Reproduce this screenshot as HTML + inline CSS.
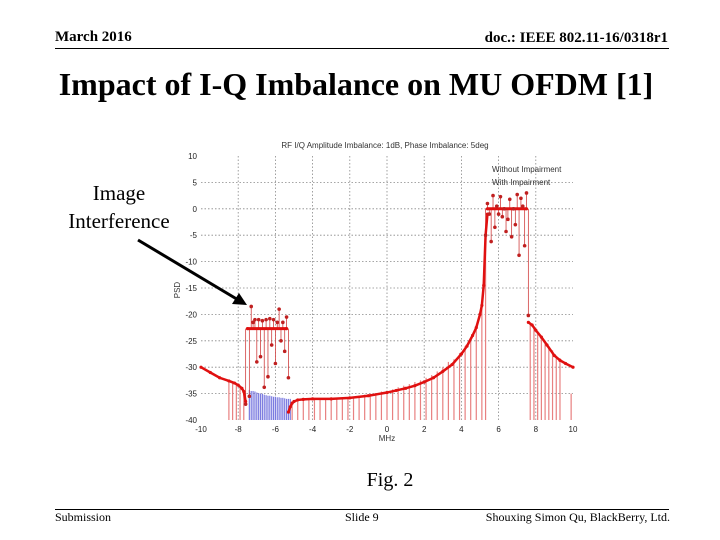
<!DOCTYPE html>
<html><head><meta charset="utf-8"><style>
body{margin:0;background:#fff;}
#root{position:relative;width:720px;height:540px;overflow:hidden;font-family:"Liberation Serif",serif;color:#000;}
.t{position:absolute;white-space:nowrap;}
</style></head><body>
<div id="root">
<div class="t" style="left:55px;top:29px;font-size:15px;font-weight:bold;">March 2016</div>
<div class="t" style="right:52px;top:30px;font-size:15px;font-weight:bold;">doc.: IEEE 802.11-16/0318r1</div>
<div style="position:absolute;left:55px;top:48px;width:614px;height:1px;background:#000;"></div>
<div class="t" style="left:0;width:712px;text-align:center;top:66px;font-size:32px;font-weight:bold;">Impact of I-Q Imbalance on MU OFDM [1]</div>
<div class="t" style="left:58px;top:179px;width:122px;text-align:center;font-size:21px;line-height:28px;">Image<br>Interference</div>
<div class="t" style="left:0;width:780px;text-align:center;top:469px;font-size:20px;">Fig. 2</div>
<div style="position:absolute;left:55px;top:509px;width:614px;height:1px;background:#000;"></div>
<div class="t" style="left:55px;top:510px;font-size:12px;">Submission</div>
<div class="t" style="left:345px;top:510px;font-size:12px;">Slide 9</div>
<div class="t" style="right:50px;top:510px;font-size:12px;">Shouxing Simon Qu, BlackBerry, Ltd.</div>
<svg id="chart" width="720" height="540" style="position:absolute;left:0;top:0;" font-family="Liberation Sans, sans-serif"></svg>
</div>
<script>
const xTicks=[-10,-8,-6,-4,-2,0,2,4,6,8,10];
const yTicks=[10,5,0,-5,-10,-15,-20,-25,-30,-35,-40];
const curveLeftX=[-10,-9.5,-9,-8.5,-8.2,-8,-7.8,-7.7,-7.6];
const curveLeftY=[-30,-31,-32,-32.6,-33,-33.4,-34,-34.6,-36.5];
const curveMidX=[-5.3,-5.2,-5.1,-5,-4.8,-4.5,-4,-3,-2,-1,0,0.5,1,1.5,2,2.5,3,3.5,4,4.3,4.6,4.8,5,5.1,5.2,5.3,5.4];
const curveMidY=[-38.5,-37.5,-36.8,-36.5,-36.2,-36.1,-36,-36,-35.8,-35.4,-34.8,-34.4,-34,-33.5,-32.8,-32,-30.8,-29.5,-27.5,-26,-24,-22.5,-20,-18.3,-14.5,-5,-1];
const curveRightX=[7.6,7.8,8,8.3,8.6,9,9.3,9.6,10];
const curveRightY=[-21.5,-22,-23,-24.3,-25.8,-27.8,-28.7,-29.3,-30];
const flatImgX=[-7.5,-5.4];const flatImgY=[-22.7,-22.7];
const flatSigX=[5.4,7.5];const flatSigY=[0,0];
const impX=[-7.6,-7.4,-7.3,-7.2,-7.1,-7,-6.9,-6.8,-6.7,-6.6,-6.5,-6.4,-6.3,-6.2,-6.1,-6,-5.9,-5.8,-5.7,-5.6,-5.5,-5.4,-5.3,5.3,5.4,5.5,5.6,5.7,5.8,5.9,6,6.1,6.2,6.3,6.4,6.5,6.6,6.7,6.8,6.9,7,7.1,7.2,7.3,7.4,7.5,7.6];
const impY=[-37,-35.5,-18.5,-21.5,-21,-29,-21,-28,-21.2,-33.8,-21,-31.8,-20.8,-25.8,-21,-29.3,-21.5,-19,-25,-21.5,-27,-20.5,-32,-5,1,-1,-6.2,2.5,-3.5,0.5,-1,2.3,-1.5,0,-4.3,-2,1.8,-5.3,0,-3,2.7,-8.8,2,0.5,-7,3,-20.2];
const stemX=[-8.5,-8.3,-8.1,-7.9,-7.7,-5.1,-4.8,-4.5,-4.2,-3.9,-3.6,-3.3,-3,-2.7,-2.4,-2.1,-1.8,-1.5,-1.2,-0.9,-0.6,-0.3,0,0.3,0.6,0.9,1.2,1.5,1.8,2.1,2.4,2.7,3,3.3,3.6,3.9,4.2,4.5,4.8,5.1,5.3,7.7,7.9,8.1,8.3,8.5,8.7,8.9,9.1,9.3,9.9];
const stemY=[-32.6,-33,-33.3,-33.8,-34.6,-36.5,-36.2,-36.1,-36,-36,-36,-36,-36,-35.9,-35.8,-35.8,-35.6,-35.4,-35.2,-35,-34.9,-34.6,-34.5,-34.2,-33.8,-33.5,-33.2,-32.8,-32.5,-32,-31.5,-30.8,-30,-29,-28.5,-27.3,-26,-24.5,-22,-18,-5,-21.8,-22.5,-23.5,-24.2,-25,-26,-26.8,-27.8,-28.3,-35];
const blueX=[-7.4,-7.3,-7.2,-7.1,-7,-6.9,-6.8,-6.7,-6.6,-6.5,-6.4,-6.3,-6.2,-6.1,-6,-5.9,-5.8,-5.7,-5.6,-5.5,-5.4,-5.3,-5.2];
const blueY=[-34.3,-34.5,-34.5,-34.6,-34.8,-34.9,-35,-35,-35.2,-35.3,-35.4,-35.4,-35.5,-35.6,-35.6,-35.7,-35.7,-35.8,-35.8,-35.9,-36,-36,-36];
const svg=document.getElementById('chart');const NS='http://www.w3.org/2000/svg';
const X0=201,X1=573,Y0=156,Y1=420;
function sx(v){return X0+(v+10)/20*(X1-X0);}
function sy(v){return Y0+(10-v)/50*(Y1-Y0);}
function mk(t,a,p){const e=document.createElementNS(NS,t);for(const k in a)e.setAttribute(k,a[k]);(p||svg).appendChild(e);return e;}
xTicks.forEach(v=>{if(v>-10&&v<10){const l=mk('line',{x1:sx(v),x2:sx(v),y1:Y0,y2:Y1,stroke:'#888','stroke-dasharray':'1.5,2','stroke-width':0.8});

}
const t=mk('text',{x:sx(v),y:Y1+12,'font-size':8,'text-anchor':'middle',fill:'#222'});t.textContent=v;

});
yTicks.forEach(v=>{if(v<10&&v>-40){const l=mk('line',{x1:X0,x2:X1,y1:sy(v),y2:sy(v),stroke:'#888','stroke-dasharray':'1.5,2','stroke-width':0.8});

}
const t=mk('text',{x:X0-4,y:sy(v)+3,'font-size':8,'text-anchor':'end',fill:'#222'});t.textContent=v;

});
stemX.forEach((v,i)=>{const l=mk('line',{x1:sx(v),x2:sx(v),y1:sy(-40),y2:sy(stemY[i]),stroke:'#e88080','stroke-width':1.2});

});
blueX.forEach((v,i)=>{const l=mk('line',{x1:sx(v),x2:sx(v),y1:sy(-40),y2:sy(blueY[i]),stroke:'#7b7be0','stroke-width':1.2});

});
impX.forEach((v,i)=>{const base=v<0?-22.7:0;const l=mk('line',{x1:sx(v),x2:sx(v),y1:sy(base),y2:sy(impY[i]),stroke:'#d04040','stroke-width':0.8});

});
function line(xs,ys,name,w){const d=xs.map((v,i)=>(i?'L':'M')+sx(v)+','+sy(ys[i])).join('');const p=mk('path',{d:d,fill:'none',stroke:'#e01010','stroke-width':w});


xs.forEach((v,i)=>{const c=mk('circle',{cx:sx(v),cy:sy(ys[i]),r:1.6,fill:'#e01010'});

});}
line(curveLeftX,curveLeftY,'psd-curve-left',2.5);
line(curveMidX,curveMidY,'psd-curve-mid',2.5);
line(curveRightX,curveRightY,'psd-curve-right',2.5);
line(flatImgX,flatImgY,'image-level',3);
line(flatSigX,flatSigY,'signal-level',3);
impX.forEach((v,i)=>{const c=mk('circle',{cx:sx(v),cy:sy(impY[i]),r:1.8,fill:'#c02020'});

});
let t=mk('text',{x:385,y:148,'font-size':8,'text-anchor':'middle',fill:'#333'});t.textContent='RF I/Q Amplitude Imbalance: 1dB, Phase Imbalance: 5deg';


t=mk('text',{x:387,y:441,'font-size':8,'text-anchor':'middle',fill:'#333'});t.textContent='MHz';


t=mk('text',{x:180,y:290,'font-size':8,'text-anchor':'middle',fill:'#333',transform:'rotate(-90 180 290)'});t.textContent='PSD';


t=mk('text',{x:492,y:172,'font-size':8,fill:'#333'});t.textContent='Without Impairment';


t=mk('text',{x:492,y:185,'font-size':8,fill:'#333'});t.textContent='With Impairment';


const a=mk('line',{x1:138,y1:240,x2:240,y2:301,stroke:'#000','stroke-width':3});


const h=mk('polygon',{points:'247,305 232,304 239,293',fill:'#000'});


</script>
</body></html>
